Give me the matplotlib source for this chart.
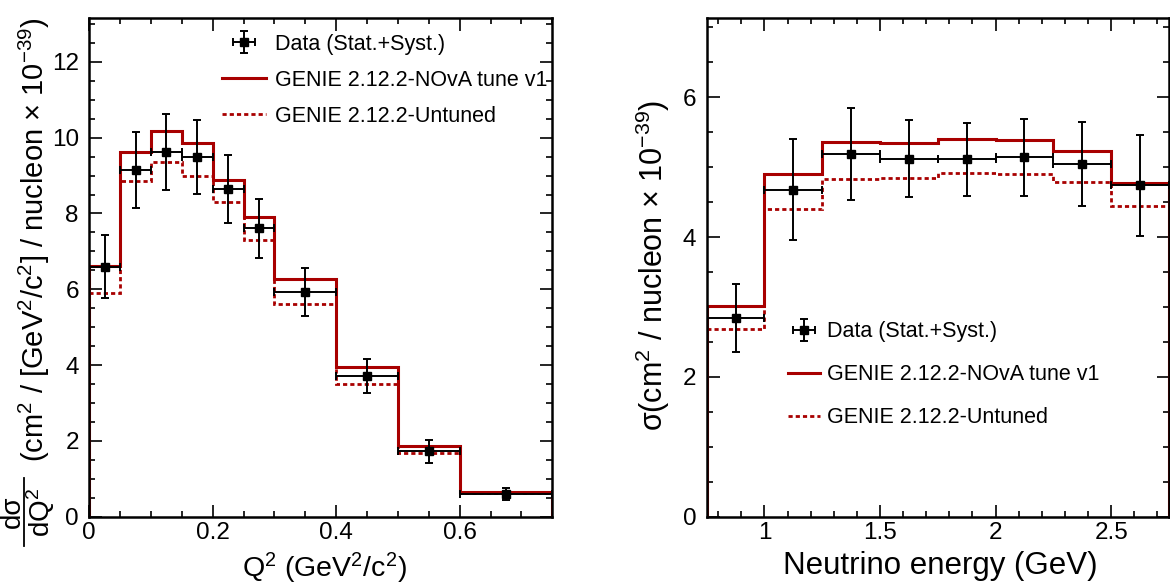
import numpy as np
import matplotlib
matplotlib.use('Agg')
from matplotlib import pyplot as plt
from matplotlib.lines import Line2D
from matplotlib.ticker import MultipleLocator

# ---- Q^2 differential cross section ----
q2_edges = [0.0, 0.05, 0.10, 0.15, 0.20, 0.25, 0.30, 0.40, 0.50, 0.60, 0.75]
q2_data = [6.60, 9.14, 9.62, 9.49, 8.64, 7.61, 5.93, 3.71, 1.72, 0.60]
q2_err = [0.82, 1.00, 1.00, 0.98, 0.90, 0.78, 0.64, 0.46, 0.30, 0.16]
q2_tuned = [6.62, 9.61, 10.17, 9.85, 8.89, 7.91, 6.26, 3.95, 1.86, 0.66]
q2_untuned = [5.89, 8.85, 9.35, 9.00, 8.29, 7.31, 5.60, 3.50, 1.68, 0.63]

# ---- total cross section vs neutrino energy ----
enu_edges = [0.75, 1.00, 1.25, 1.50, 1.75, 2.00, 2.25, 2.50, 2.75]
enu_data = [2.84, 4.68, 5.19, 5.12, 5.11, 5.14, 5.05, 4.74]
enu_err = [0.49, 0.72, 0.66, 0.55, 0.52, 0.55, 0.60, 0.72]
enu_tuned = [3.01, 4.90, 5.36, 5.34, 5.41, 5.39, 5.23, 4.77]
enu_untuned = [2.68, 4.40, 4.83, 4.84, 4.91, 4.90, 4.79, 4.45]

legend_labels = ['Data (Stat.+Syst.)', 'GENIE 2.12.2-NOvA tune v1',
                 'GENIE 2.12.2-Untuned']

RED = '#a80000'
W, H = 1170, 586

plt.rcParams['font.family'] = ['Liberation Sans', 'DejaVu Sans']
plt.rcParams['mathtext.fontset'] = 'custom'
plt.rcParams['mathtext.rm'] = 'Liberation Sans'
plt.rcParams['mathtext.it'] = 'Liberation Sans:italic'
plt.rcParams['mathtext.bf'] = 'Liberation Sans:bold'


def draw_panel(ax, edges, data, err, tuned, untuned):
    edges = np.asarray(edges)
    centers = 0.5 * (edges[1:] + edges[:-1])
    halfw = 0.5 * (edges[1:] - edges[:-1])

    h_tuned = ax.stairs(tuned, edges, baseline=0, color=RED, lw=2.2, zorder=2)
    h_untuned = ax.stairs(untuned, edges, baseline=0, color=RED, lw=2.0,
                          linestyle=(0, (1.5, 1.1)), zorder=2)
    h_data = ax.errorbar(centers, data, xerr=halfw, yerr=err, fmt='s',
                         color='black', ms=6, elinewidth=1.4, capsize=3,
                         capthick=1.4, zorder=3)
    return h_data, h_tuned, h_untuned


def style_axes(ax, xmaj, xmin, ymaj, ymin):
    ax.xaxis.set_major_locator(MultipleLocator(xmaj))
    ax.xaxis.set_minor_locator(MultipleLocator(xmin))
    ax.yaxis.set_major_locator(MultipleLocator(ymaj))
    ax.yaxis.set_minor_locator(MultipleLocator(ymin))
    ax.tick_params(which='both', direction='in', top=True, right=True,
                   labelsize=17.5, width=1.2)
    ax.tick_params(which='major', length=9)
    ax.tick_params(which='minor', length=4.5)
    ax.tick_params(axis='x', which='both', pad=3.5)
    ax.tick_params(axis='y', which='both', pad=7.5)
    for sp in ax.spines.values():
        sp.set_linewidth(1.8)


def fig_xy(px, py):
    # pixel position (from top-left) -> figure fraction
    return px / W, 1 - py / H


fig = plt.figure(figsize=(W / 100, H / 100), dpi=100)
ax1 = fig.add_axes([0.0763, 0.1183, 0.3957, 0.8505])
ax2 = fig.add_axes([0.6040, 0.1183, 0.3951, 0.8505])

# left: dsigma/dQ^2
h1 = draw_panel(ax1, q2_edges, q2_data, q2_err, q2_tuned, q2_untuned)
ax1.set_xlim(0, 0.75)
ax1.set_ylim(0, 13.15)
style_axes(ax1, 0.2, 0.05, 2, 0.5)
ax1.xaxis.set_major_formatter(lambda v, p: '0' if abs(v) < 1e-9 else f'{v:g}')
ax1.set_xlabel(r'Q$^2$ (GeV$^2$/c$^2$)', fontsize=20.5)
ax1.xaxis.set_label_coords(0.509, -0.068)
ax1.set_ylabel(r'(cm$^2$ / [GeV$^2$/c$^2$] / nucleon $\times$ 10$^{-39}$)',
               fontsize=21)
ax1.yaxis.set_label_coords(-0.081, 0.555)

# d sigma / d Q^2 prefix, set as a stacked fraction
frac_y = 512
fig.text(*fig_xy(20, frac_y), 'dσ', rotation=90, rotation_mode='anchor',
         ha='center', va='baseline', fontsize=20)
fig.text(*fig_xy(50, frac_y), r'dQ$^2$', rotation=90, rotation_mode='anchor',
         ha='center', va='baseline', fontsize=20)
x0, y0 = fig_xy(24.5, frac_y - 34)
x1, y1 = fig_xy(24.5, frac_y + 34)
fig.add_artist(Line2D([x0, x1], [y0, y1], transform=fig.transFigure,
                      color='black', lw=1.3))

ax1.legend(h1, legend_labels, loc='upper left', bbox_to_anchor=(0.2866, 0.969),
           frameon=False, fontsize=15.5, handlelength=2.05, handletextpad=0.42,
           labelspacing=0.70, borderpad=0, borderaxespad=0)

# right: sigma vs neutrino energy
h2 = draw_panel(ax2, enu_edges, enu_data, enu_err, enu_tuned, enu_untuned)
ax2.set_xlim(0.75, 2.75)
ax2.set_ylim(0, 7.13)
style_axes(ax2, 0.5, 0.1, 2, 0.5)
ax2.xaxis.set_major_formatter(lambda v, p: f'{v:g}')
ax2.set_xlabel('Neutrino energy (GeV)', fontsize=22.5)
ax2.xaxis.set_label_coords(0.505, -0.068)
ax2.set_ylabel(r'σ(cm$^2$ / nucleon $\times$ 10$^{-39}$)', fontsize=22)
ax2.yaxis.set_label_coords(-0.075, 0.505)
ax2.legend(h2, legend_labels, loc='upper left', bbox_to_anchor=(0.176, 0.392),
           frameon=False, fontsize=15.5, handlelength=1.5, handletextpad=0.33,
           labelspacing=1.02, borderpad=0, borderaxespad=0)

fig.savefig('out.png', dpi=100)
